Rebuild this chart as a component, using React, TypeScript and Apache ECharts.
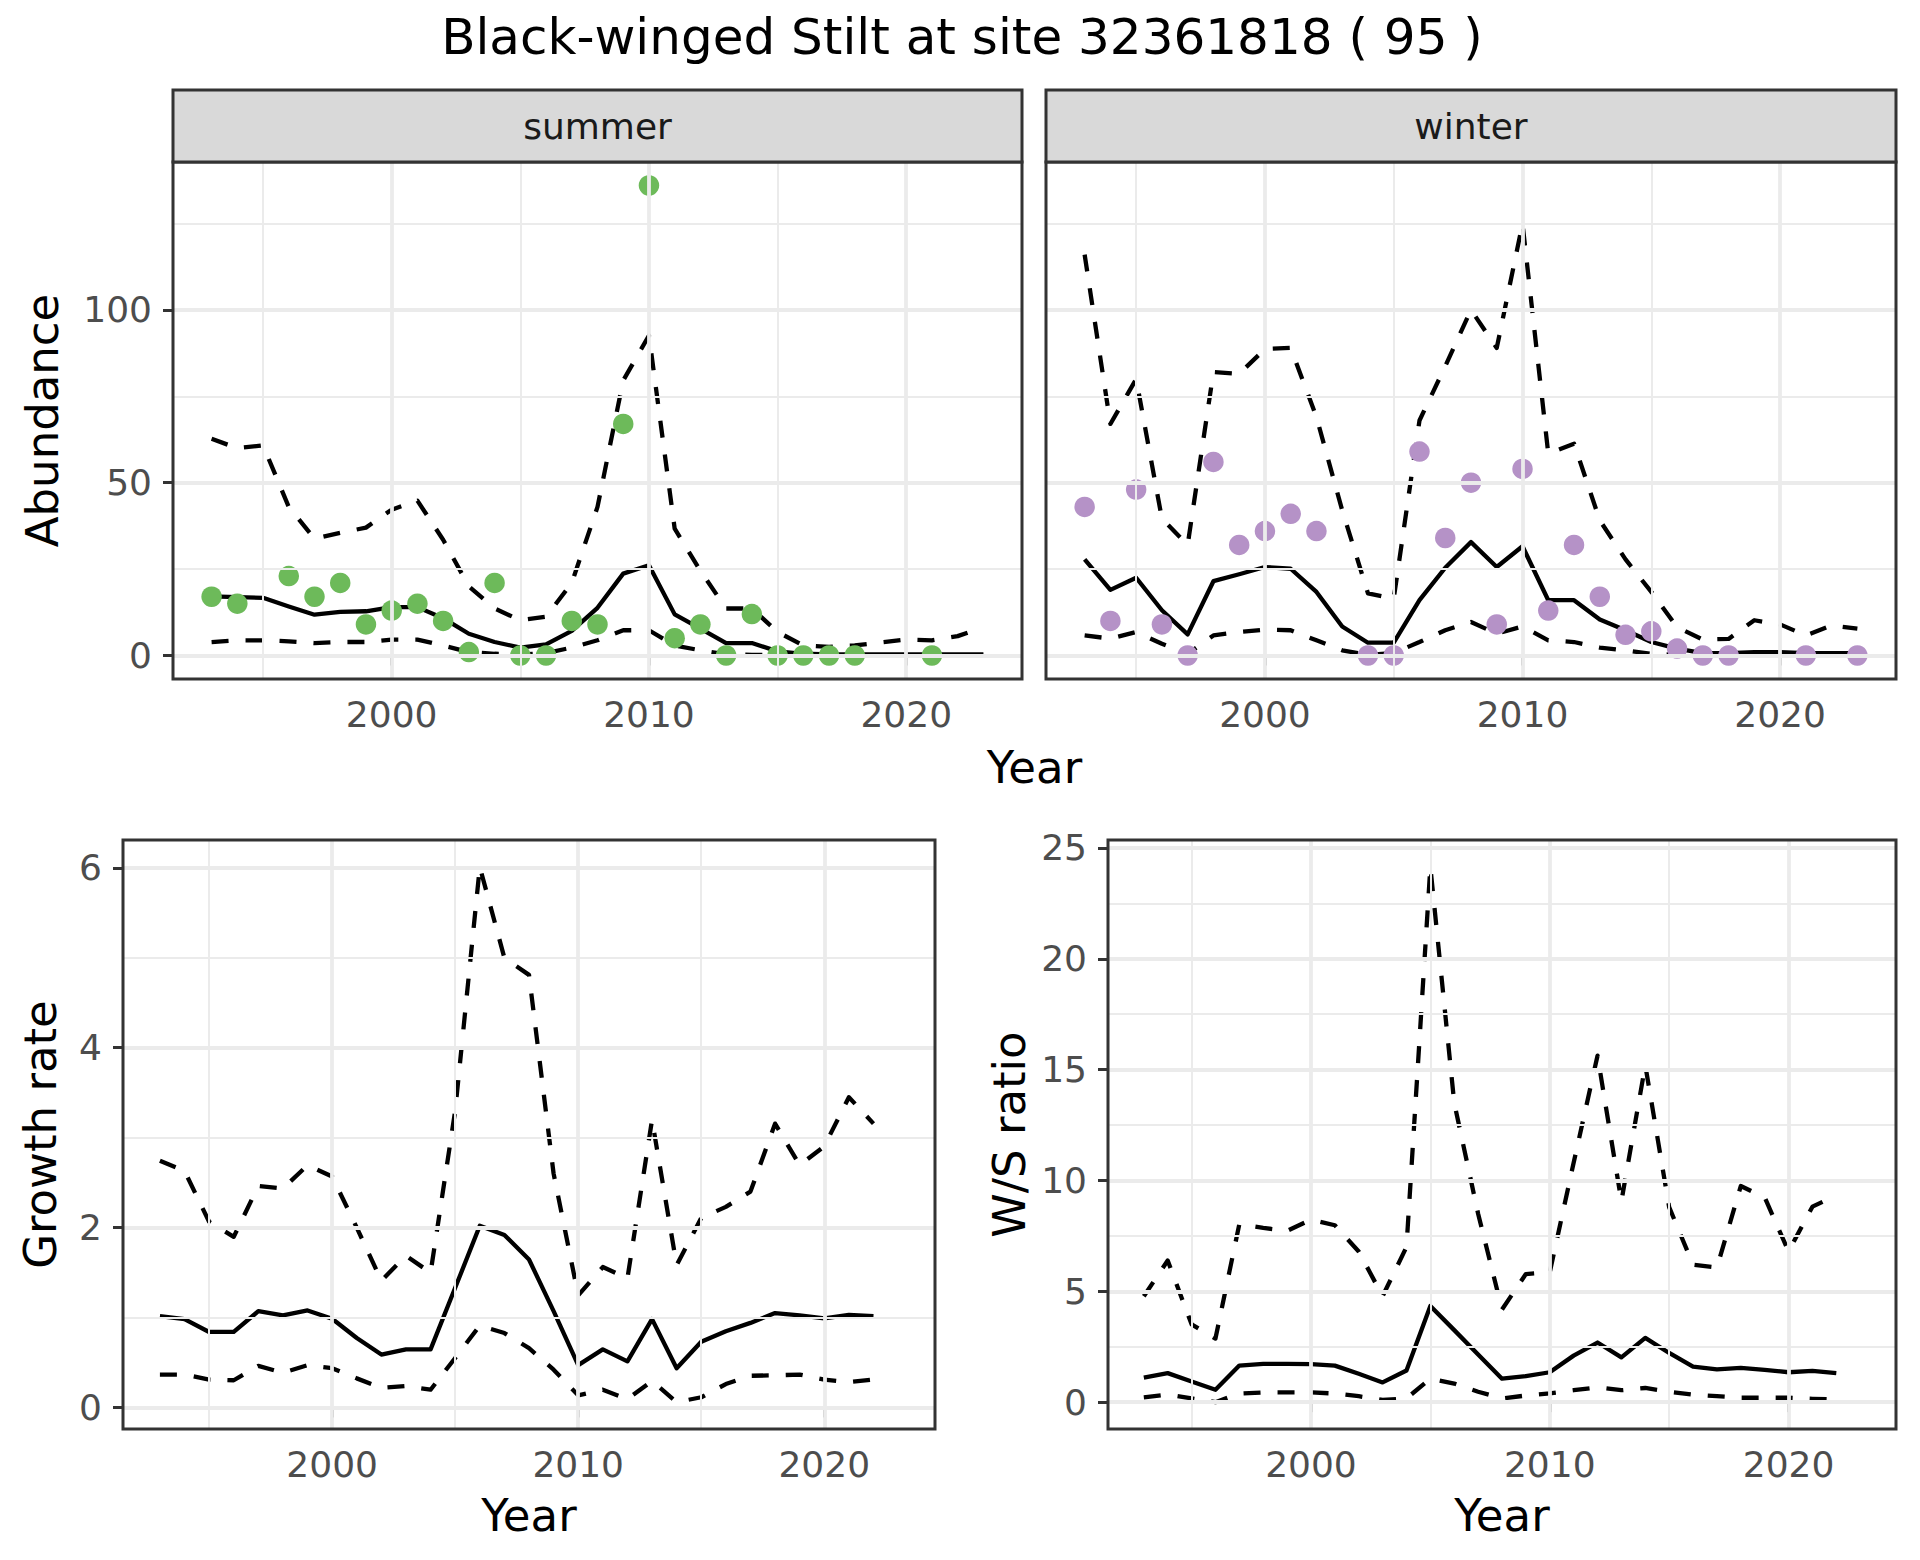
import React, { useEffect, useRef } from 'react';
import * as echarts from 'echarts';

// ---------------- data ----------------
const years = [1993, 1994, 1995, 1996, 1997, 1998, 1999, 2000, 2001, 2002, 2003, 2004, 2005, 2006, 2007, 2008, 2009, 2010, 2011, 2012, 2013, 2014, 2015, 2016, 2017, 2018, 2019, 2020, 2021, 2022, 2023];
const rateYears = [1993, 1994, 1995, 1996, 1997, 1998, 1999, 2000, 2001, 2002, 2003, 2004, 2005, 2006, 2007, 2008, 2009, 2010, 2011, 2012, 2013, 2014, 2015, 2016, 2017, 2018, 2019, 2020, 2021, 2022];

const summerObs = [17, 15, null, 23, 17, 21, 9, 13, 15, 10, 1, 21, 0, 0, 10, 9, 67, 136, 5, 9, 0, 12, 0, 0, 0, 0, null, null, 0, null, null];
const summerMean = [17.1, 16.9, 16.7, 14.2, 11.8, 12.6, 12.8, 14.0, 14.0, 10.8, 6.3, 3.9, 2.3, 3.2, 7.1, 13.8, 23.7, 26.1, 11.9, 7.8, 3.6, 3.6, 1.2, 0.5, 0.3, 0.3, 0.3, 0.3, 0.3, 0.3, 0.3];
const summerUpper = [62.7, 60.0, 60.8, 43.0, 33.8, 35.5, 37.0, 42.2, 44.8, 33.5, 20.0, 13.6, 10.2, 11.2, 21.0, 43.0, 79.6, 92.6, 36.7, 24.5, 13.6, 13.6, 6.8, 2.9, 2.5, 2.9, 3.8, 4.6, 4.4, 5.6, 8.2];
const summerLower = [3.9, 4.4, 4.4, 4.1, 3.6, 3.9, 3.9, 4.6, 4.6, 2.9, 1.0, 0.5, 0.3, 0.7, 2.3, 4.4, 7.3, 7.3, 2.9, 1.5, 0.3, 0.2, 0.1, 0.05, 0.05, 0.05, 0.05, 0.05, 0.05, 0.05, 0.05];

const winterObs = [43, 10, 48, 9, 0, 56, 32, 36, 41, 36, null, 0, 0, 59, 34, 50, 9, 54, 13, 32, 17, 6, 7, 2, 0, 0, null, null, 0, null, 0];
const winterMean = [27.8, 19.0, 22.5, 13.1, 6.1, 21.5, 23.5, 25.6, 25.1, 18.4, 8.4, 3.7, 3.7, 16.0, 25.4, 32.8, 25.6, 31.6, 16.0, 16.0, 10.4, 7.3, 3.9, 2.0, 0.7, 0.7, 1.0, 1.0, 0.7, 0.7, 0.7];
const winterUpper = [116, 67, 80, 39.6, 32, 82, 81.5, 88.7, 89, 69, 42, 18, 16.4, 68, 83.7, 100, 89, 125, 58.4, 61.3, 39.1, 27.8, 18.4, 8.2, 4.6, 4.8, 10.2, 9.0, 5.8, 8.7, 7.8];
const winterLower = [5.8, 4.9, 6.8, 3.4, 0.5, 5.8, 6.8, 7.5, 7.3, 4.4, 1.5, 0.2, 0.7, 3.9, 7.3, 9.7, 6.3, 8.4, 4.4, 3.9, 2.3, 1.5, 0.5, 0.2, 0.1, 0.1, 0.1, 0.1, 0.1, 0.1, 0.1];

const growthMean = [1.016, 0.982, 0.839, 0.839, 1.07, 1.024, 1.078, 0.986, 0.772, 0.588, 0.646, 0.646, 1.33, 2.02, 1.918, 1.645, 1.07, 0.47, 0.646, 0.512, 0.982, 0.436, 0.73, 0.848, 0.94, 1.049, 1.024, 0.99, 1.028, 1.016];
const growthUpper = [2.744, 2.63, 2.065, 1.897, 2.463, 2.434, 2.694, 2.568, 2.0, 1.41, 1.687, 1.498, 3.3, 6.01, 5.0, 4.81, 2.6, 1.246, 1.561, 1.435, 3.198, 1.582, 2.107, 2.23, 2.4, 3.156, 2.694, 2.904, 3.45, 3.156];
const growthLower = [0.365, 0.365, 0.31, 0.302, 0.462, 0.386, 0.47, 0.436, 0.323, 0.218, 0.239, 0.197, 0.55, 0.91, 0.827, 0.659, 0.42, 0.134, 0.197, 0.092, 0.294, 0.059, 0.113, 0.26, 0.352, 0.357, 0.365, 0.31, 0.281, 0.31];

const ratioMean = [1.11, 1.31, 0.93, 0.56, 1.65, 1.73, 1.73, 1.72, 1.65, 1.28, 0.89, 1.43, 4.34, 3.25, 2.15, 1.06, 1.18, 1.35, 2.1, 2.69, 2.02, 2.9, 2.22, 1.6, 1.48, 1.55, 1.46, 1.35, 1.41, 1.31];
const ratioUpper = [4.78, 6.39, 3.51, 2.87, 8.03, 7.86, 7.73, 8.23, 7.98, 6.8, 4.78, 7.0, 24.15, 13.5, 8.5, 4.18, 5.78, 5.86, 10.8, 15.63, 9.06, 15.2, 8.8, 6.2, 6.07, 9.75, 9.24, 6.8, 8.82, 9.33];
const ratioLower = [0.22, 0.34, 0.17, 0.0, 0.39, 0.44, 0.44, 0.44, 0.39, 0.27, 0.1, 0.17, 1.06, 0.84, 0.47, 0.17, 0.3, 0.4, 0.54, 0.67, 0.54, 0.64, 0.47, 0.34, 0.27, 0.2, 0.2, 0.2, 0.15, 0.12];

const xTicks = [2000, 2010, 2020];
const xMinor = [1995, 2005, 2015];
const abundTicks = [0, 50, 100];
const abundMinor = [25, 75, 125];
const growthTicks = [0, 2, 4, 6];
const growthMinor = [1, 3, 5];
const ratioTicks = [0, 5, 10, 15, 20, 25];
const ratioMinor = [2.5, 7.5, 12.5, 17.5, 22.5];

const TITLE = 'Black-winged Stilt at site 32361818 ( 95 )';
const SUMMER_COLOR = '#6DBA5A';
const WINTER_COLOR = '#B592C7';

// ---------------- layout ----------------
const FONT = 'DejaVu Sans';
const P = [
  { left: 173, top: 162, width: 849, height: 517 },
  { left: 1046, top: 162, width: 850, height: 517 },
  { left: 123, top: 840, width: 812, height: 589 },
  { left: 1108, top: 840, width: 788, height: 589 },
];
const STRIP_TOP = 90;
const TICK_FS = 36;
const STRIP_FS = 36;
const AXIS_FS = 45;
const TITLE_FS = 50;

const pairs = (xs: number[], ys: (number | null)[]) =>
  xs.map((x, i) => [x, ys[i]]).filter((p) => p[1] !== null && p[1] !== undefined);

function gridLineSeries(idx: number, yMajor: number[], yMinor: number[]) {
  const major = { color: '#EBEBEB', width: 3.8, type: 'solid' };
  const minor = { color: '#EBEBEB', width: 2, type: 'solid' };
  return {
    type: 'line',
    xAxisIndex: idx,
    yAxisIndex: idx,
    data: [[2000, 0]],
    showSymbol: false,
    symbol: 'none',
    silent: true,
    z: 1,
    lineStyle: { opacity: 0 },
    markLine: {
      silent: true,
      animation: false,
      symbol: ['none', 'none'],
      label: { show: false },
      emphasis: { disabled: true },
      data: [
        ...xMinor.map((v) => ({ xAxis: v, lineStyle: minor })),
        ...yMinor.map((v) => ({ yAxis: v, lineStyle: minor })),
        ...xTicks.map((v) => ({ xAxis: v, lineStyle: major })),
        ...yMajor.map((v) => ({ yAxis: v, lineStyle: major })),
      ],
    },
  };
}

function lineSeries(idx: number, xs: number[], ys: number[], dashed: boolean) {
  return {
    type: 'line',
    xAxisIndex: idx,
    yAxisIndex: idx,
    data: pairs(xs, ys),
    showSymbol: false,
    symbol: 'none',
    silent: true,
    z: 3,
    lineStyle: {
      color: '#000000',
      width: 4.3,
      type: dashed ? [17, 17] : 'solid',
      cap: 'butt',
      join: 'round',
    },
  };
}

function pointSeries(idx: number, xs: number[], ys: (number | null)[], color: string) {
  return {
    type: 'scatter',
    xAxisIndex: idx,
    yAxisIndex: idx,
    data: pairs(xs, ys),
    symbol: 'circle',
    symbolSize: 20.5,
    silent: true,
    z: 4,
    itemStyle: { color, opacity: 1 },
  };
}

function xAxisFor(idx: number) {
  return {
    type: 'value',
    gridIndex: idx,
    min: 1991.5,
    max: 2024.5,
    splitLine: { show: false },
    axisLine: { show: false },
    axisTick: { show: true, length: 10, customValues: xTicks, lineStyle: { color: '#333333', width: 3 } },
    axisLabel: {
      show: true,
      customValues: xTicks,
      margin: 17,
      color: '#4D4D4D',
      fontFamily: FONT,
      fontSize: TICK_FS,
      formatter: (v: number) => String(v),
    },
  };
}

function yAxisFor(idx: number, min: number, max: number, ticks: number[], showLabels: boolean) {
  return {
    type: 'value',
    gridIndex: idx,
    min,
    max,
    splitLine: { show: false },
    axisLine: { show: false },
    axisTick: { show: showLabels, length: 10, customValues: ticks, lineStyle: { color: '#333333', width: 3 } },
    axisLabel: {
      show: showLabels,
      customValues: ticks,
      margin: 21,
      color: '#4D4D4D',
      fontFamily: FONT,
      fontSize: TICK_FS,
      formatter: (v: number) => String(v),
    },
  };
}

function textEl(text: string, x: number, y: number, size: number, color: string, rotate = 0) {
  return {
    type: 'text',
    x,
    y,
    rotation: rotate,
    silent: true,
    z: 20,
    style: {
      text,
      fill: color,
      font: `${size}px "${FONT}"`,
      textAlign: 'center',
      textVerticalAlign: 'middle',
    },
  };
}

function stripEls(p: { left: number; top: number; width: number }, label: string) {
  return [
    {
      type: 'rect',
      silent: true,
      z: 15,
      shape: { x: p.left, y: STRIP_TOP, width: p.width, height: p.top - STRIP_TOP },
      style: { fill: '#D9D9D9', stroke: '#333333', lineWidth: 3 },
    },
    textEl(label, p.left + p.width / 2, (STRIP_TOP + p.top) / 2, STRIP_FS, '#1A1A1A'),
  ];
}

export default function App() {
  const ref = useRef<HTMLDivElement>(null);

  useEffect(() => {
    document.body.style.margin = '0';
    if (!ref.current) return;
    const chart = echarts.init(ref.current, null, { renderer: 'svg' });

    const option: any = {
      animation: false,
      backgroundColor: '#FFFFFF',
      grid: P.map((p) => ({
        left: p.left,
        top: p.top,
        width: p.width,
        height: p.height,
        show: true,
        backgroundColor: 'transparent',
        borderColor: '#333333',
        borderWidth: 3,
        z: 10,
        containLabel: false,
        outerBoundsMode: 'none',
      })),
      xAxis: [xAxisFor(0), xAxisFor(1), xAxisFor(2), xAxisFor(3)],
      yAxis: [
        yAxisFor(0, -6.8, 142.8, abundTicks, true),
        yAxisFor(1, -6.8, 142.8, abundTicks, false),
        yAxisFor(2, -0.24, 6.31, growthTicks, true),
        yAxisFor(3, -1.21, 25.36, ratioTicks, true),
      ],
      series: [
        gridLineSeries(0, abundTicks, abundMinor),
        lineSeries(0, years, summerUpper, true),
        lineSeries(0, years, summerLower, true),
        lineSeries(0, years, summerMean, false),
        pointSeries(0, years, summerObs, SUMMER_COLOR),

        gridLineSeries(1, abundTicks, abundMinor),
        lineSeries(1, years, winterUpper, true),
        lineSeries(1, years, winterLower, true),
        lineSeries(1, years, winterMean, false),
        pointSeries(1, years, winterObs, WINTER_COLOR),

        gridLineSeries(2, growthTicks, growthMinor),
        lineSeries(2, rateYears, growthUpper, true),
        lineSeries(2, rateYears, growthLower, true),
        lineSeries(2, rateYears, growthMean, false),

        gridLineSeries(3, ratioTicks, ratioMinor),
        lineSeries(3, rateYears, ratioUpper, true),
        lineSeries(3, rateYears, ratioLower, true),
        lineSeries(3, rateYears, ratioMean, false),
      ],
      graphic: [
        textEl(TITLE, 962, 37, TITLE_FS, '#000000'),
        ...stripEls(P[0], 'summer'),
        ...stripEls(P[1], 'winter'),
        textEl('Abundance', 42, P[0].top + P[0].height / 2, AXIS_FS, '#000000', Math.PI / 2),
        textEl('Year', (P[0].left + P[1].left + P[1].width) / 2, 767, AXIS_FS, '#000000'),
        textEl('Growth rate', 40, P[2].top + P[2].height / 2, AXIS_FS, '#000000', Math.PI / 2),
        textEl('Year', P[2].left + P[2].width / 2, 1515, AXIS_FS, '#000000'),
        textEl('W/S ratio', 1009, P[3].top + P[3].height / 2, AXIS_FS, '#000000', Math.PI / 2),
        textEl('Year', P[3].left + P[3].width / 2, 1515, AXIS_FS, '#000000'),
      ],
    };

    chart.setOption(option);
    return () => {
      chart.dispose();
    };
  }, []);

  return <div ref={ref} style={{ width: 1920, height: 1560 }} />;
}
